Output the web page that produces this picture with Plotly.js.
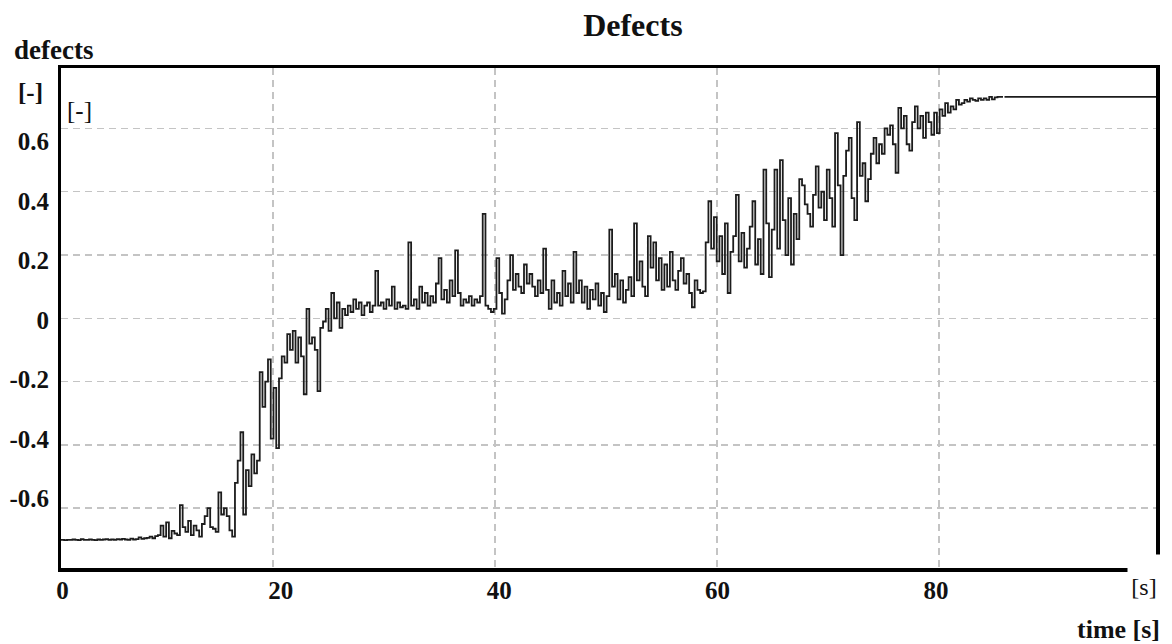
<!DOCTYPE html>
<html>
<head>
<meta charset="utf-8">
<script src="https://cdn.plot.ly/plotly-3.0.1.min.js"></script>
<style>html,body{margin:0;padding:0;background:#fff;}#chart{width:1172px;height:644px;}</style>
</head>
<body>
<div id="chart"></div>
<script>
// Sampled defects signal (first sample time and sample period given to the trace)
const sampleStart = 0.7;
const samplePeriod = 0.248;
const defects = [
  -0.700,-0.700,-0.701,-0.700, -0.700,-0.699,-0.700,-0.701, -0.698,-0.700,-0.700,-0.699,
  -0.700,-0.701,-0.699,-0.700, -0.699,-0.698,-0.700,-0.699, -0.700,-0.698,-0.699,-0.697,
  -0.699,-0.700,-0.696,-0.699, -0.698,-0.692,-0.697,-0.695, -0.694,-0.690,-0.695,-0.688,
  -0.685,-0.655,-0.690,-0.645, -0.695,-0.672,-0.680,-0.685, -0.590,-0.660,-0.675,-0.640,
  -0.685,-0.655,-0.670,-0.690, -0.650,-0.625,-0.600,-0.660, -0.665,-0.675,-0.550,-0.620,
  -0.600,-0.625,-0.670,-0.690, -0.520,-0.450,-0.360,-0.620, -0.480,-0.530,-0.430,-0.490,
  -0.450,-0.170,-0.280,-0.200, -0.130,-0.380,-0.220,-0.410, -0.190,-0.120,-0.140,-0.050,
  -0.100,-0.040,-0.140,-0.060, -0.120,-0.240, 0.030,-0.080, -0.060,-0.100,-0.230,-0.030,
  -0.010, 0.030,-0.040, 0.080,  0.000, 0.050,-0.030, 0.030,  0.010, 0.040, 0.020, 0.060,
   0.030, 0.050, 0.010, 0.040,  0.050, 0.020, 0.040, 0.150,  0.040, 0.050, 0.030, 0.060,
   0.040, 0.100, 0.030, 0.050,  0.035, 0.040, 0.030, 0.240,  0.040, 0.060, 0.030, 0.100,
   0.050, 0.080, 0.040, 0.070,  0.050, 0.110, 0.190, 0.060,  0.090, 0.050, 0.120, 0.070,
   0.215, 0.080, 0.040, 0.060,  0.050, 0.070, 0.040, 0.060,  0.050, 0.070, 0.330, 0.040,
   0.030, 0.020, 0.030, 0.190,  0.080, 0.015, 0.060, 0.120,  0.200, 0.090, 0.140, 0.100,
   0.080, 0.170, 0.110, 0.140,  0.100, 0.070, 0.120, 0.080,  0.220, 0.090, 0.030, 0.120,
   0.050, 0.080, 0.040, 0.150,  0.070, 0.110, 0.050, 0.210,  0.080, 0.120, 0.050, 0.100,
   0.030, 0.090, 0.060, 0.110,  0.040, 0.080, 0.020, 0.070,  0.280, 0.100, 0.140, 0.060,
   0.120, 0.050, 0.090, 0.130,  0.070, 0.300, 0.120, 0.180,  0.100, 0.070, 0.260, 0.160,
   0.240, 0.120, 0.190, 0.090,  0.170, 0.100, 0.210, 0.120,  0.090, 0.150, 0.190, 0.110,
   0.140, 0.080, 0.035, 0.120,  0.090, 0.080, 0.085, 0.240,  0.370, 0.220, 0.320, 0.180,
   0.260, 0.140, 0.300, 0.080,  0.210, 0.260, 0.390, 0.180,  0.270, 0.160, 0.220, 0.290,
   0.370, 0.170, 0.250, 0.140,  0.470, 0.300, 0.130, 0.280,  0.470, 0.220, 0.500, 0.310,
   0.200, 0.380, 0.170, 0.330,  0.250, 0.440, 0.420, 0.360,  0.330, 0.290, 0.390, 0.480,
   0.350, 0.400, 0.310, 0.470,  0.380, 0.290, 0.585, 0.420,  0.200, 0.450, 0.530, 0.570,
   0.380, 0.310, 0.620, 0.450,  0.490, 0.370, 0.440, 0.520,  0.570, 0.490, 0.550, 0.520,
   0.600, 0.580, 0.610, 0.550,  0.460, 0.665, 0.600, 0.640,  0.550, 0.530, 0.620, 0.670,
   0.600, 0.640, 0.570, 0.650,  0.620, 0.580, 0.650, 0.585,  0.660, 0.640, 0.680, 0.650,
   0.670, 0.660, 0.690, 0.675,  0.680, 0.690, 0.685, 0.695,  0.690, 0.687, 0.695, 0.690,
   0.695, 0.690, 0.700, 0.692,  0.698, 0.700, 0.700, 0.700
];
// Settled tail of the signal
const tailTime = [85.9, 100];
const tailDefects = [0.700, 0.700];

// Tick labels
const xTickVals = [0, 20, 40, 60, 80];
const xTickText = ['0', '20', '40', '60', '80'];
const yTickVals = [-0.6, -0.4, -0.2, 0, 0.2, 0.4, 0.6];
const yTickText = ['-0.6', '-0.4', '-0.2', '0', '0.2', '0.4', '0.6'];

const serif = '"Liberation Serif", "Times New Roman", serif';
const lineStyle = {color: '#1c1c1c', width: 1.8, shape: 'hv'};

const traces = [
  {type: 'scatter', mode: 'lines', x0: sampleStart, dx: samplePeriod, y: defects,
   line: lineStyle, hoverinfo: 'skip', showlegend: false},
  {type: 'scatter', mode: 'lines', x: tailTime, y: tailDefects,
   line: lineStyle, hoverinfo: 'skip', showlegend: false},
  {type: 'scatter', mode: 'lines', x: [], y: [], xaxis: 'x2', yaxis: 'y2',
   hoverinfo: 'skip', showlegend: false}
];

const gridStyle = {showgrid: true, gridcolor: '#c4c4c4', gridwidth: 1.5, griddash: '7px,5px'};

const layout = {
  width: 1172, height: 644,
  margin: {l: 61, r: 16, t: 68, b: 76, pad: 0},
  paper_bgcolor: '#fff', plot_bgcolor: '#fff',
  showlegend: false,
  title: {text: 'Defects', x: 0.54, xanchor: 'center', y: 0.962, yanchor: 'middle',
          font: {family: serif, size: 32, weight: 'bold', color: '#111'}},
  xaxis: Object.assign({range: [0.9, 99.55], tickvals: xTickVals, showticklabels: false,
          ticks: '', zeroline: false, showline: true, mirror: true, linecolor: '#000', linewidth: 3.5}, gridStyle),
  yaxis: Object.assign({range: [-0.789, 0.791], tickvals: yTickVals, showticklabels: false,
          ticks: '', zeroline: false, showline: true, mirror: true, linecolor: '#000', linewidth: 3.5}, gridStyle),
  xaxis2: {overlaying: 'x', side: 'bottom', range: [-0.128, 100.15], tickvals: xTickVals, ticktext: xTickText,
           showgrid: false, zeroline: false, showline: false, ticks: '', ticklabelstandoff: 5,
           tickfont: {family: serif, size: 25, weight: 'bold', color: '#111'}},
  yaxis2: {overlaying: 'y', side: 'left', range: [-0.834, 0.847], tickvals: yTickVals, ticktext: yTickText,
           showgrid: false, zeroline: false, showline: false, ticks: '', ticklabelstandoff: 11,
           tickfont: {family: serif, size: 25, weight: 'bold', color: '#111'}},
  annotations: [
    {text: 'defects', xref: 'paper', yref: 'paper', x: -0.0447, y: 1.036, xanchor: 'left', yanchor: 'middle',
     showarrow: false, font: {family: serif, size: 27, weight: 'bold', color: '#111'}},
    {text: '[-]', xref: 'paper', yref: 'paper', x: -0.0274, y: 0.952, xanchor: 'center', yanchor: 'middle',
     showarrow: false, font: {family: serif, size: 25, weight: 'bold', color: '#111'}},
    {text: '[-]', xref: 'paper', yref: 'paper', x: 0.0037, y: 0.914, xanchor: 'left', yanchor: 'middle',
     showarrow: false, font: {family: serif, size: 25, color: '#111'}},
    {text: '[s]', xref: 'paper', yref: 'paper', x: 0.989, y: -0.019, xanchor: 'center', yanchor: 'middle',
     showarrow: false, bgcolor: '#fff', width: 32, height: 45, valign: 'bottom', borderpad: 0,
     font: {family: serif, size: 24, color: '#111'}},
    {text: 'time [s]', xref: 'paper', yref: 'paper', x: 1.0055, y: -0.122, xanchor: 'right', yanchor: 'middle',
     showarrow: false, font: {family: serif, size: 26, weight: 'bold', color: '#111'}}
  ]
};

Plotly.newPlot('chart', traces, layout, {staticPlot: true, displayModeBar: false});
</script>
</body>
</html>
